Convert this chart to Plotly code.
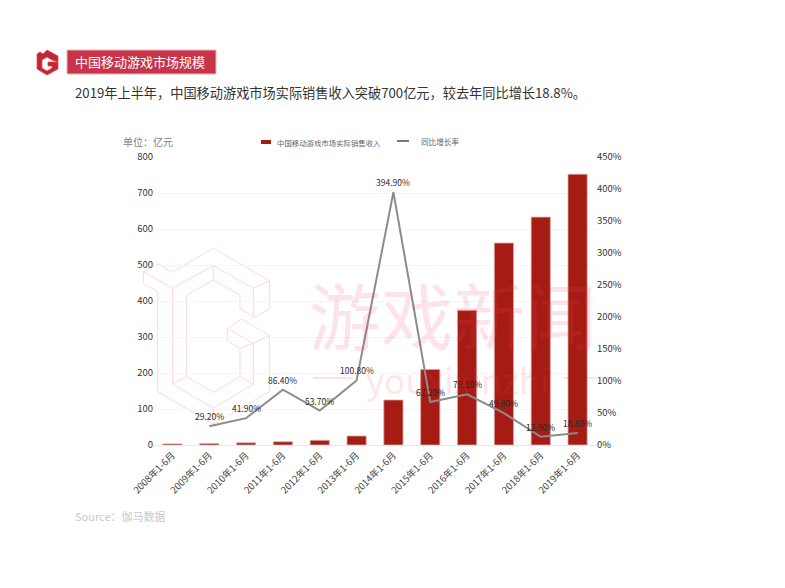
import plotly.graph_objects as go
from plotly.subplots import make_subplots

W, H = 785, 588
FONT = 'Noto Sans CJK SC, Noto Sans, sans-serif'

periods = ['2008年1-6月', '2009年1-6月', '2010年1-6月', '2011年1-6月', '2012年1-6月', '2013年1-6月',
           '2014年1-6月', '2015年1-6月', '2016年1-6月', '2017年1-6月', '2018年1-6月', '2019年1-6月']
revenue = [3, 4, 6, 9, 13, 25, 125, 210, 374, 561, 633, 752]
growth = [None, 29.2, 41.9, 86.4, 53.7, 100.8, 394.9, 67.2, 79.1, 49.8, 12.9, 18.8]
growth_labels = ['', '29.20%', '41.90%', '86.40%', '53.70%', '100.80%', '394.90%', '67.20%', '79.10%',
                 '49.80%', '12.90%', '18.80%']
left_ticks = [0, 100, 200, 300, 400, 500, 600, 700, 800]
right_ticks = [0, 50, 100, 150, 200, 250, 300, 350, 400, 450]

# plot area in page pixels
L, R, T, B = 154, 596, 157, 445


def px_x(x):
    return (x - L) / (R - L)


def px_y(y):
    return (B - y) / (B - T)


def poly(points, close=True, **kw):
    path = 'M' + ' L'.join(f'{px_x(x):.4f},{px_y(y):.4f}' for x, y in points) + (' Z' if close else '')
    return dict(type='path', path=path, xref='paper', yref='paper', layer='below', **kw)


def note(text, x, y, size, color, anchor='left'):
    return dict(text=text, x=px_x(x), y=px_y(y), xref='paper', yref='paper', xanchor=anchor, yanchor='middle',
                showarrow=False, borderpad=0, font=dict(size=size, color=color))


fig = make_subplots(specs=[[{'secondary_y': True}]])

fig.add_trace(go.Bar(x=periods, y=revenue, name='中国移动游戏市场实际销售收入',
                     marker=dict(color='#a61c14', line=dict(color='#dba5a3', width=0.8))),
              secondary_y=False)
fig.add_trace(go.Scatter(x=periods, y=growth, name='同比增长率', mode='lines',
                         line=dict(color='#8c8c8c', width=2)),
              secondary_y=True)

# header
shapes = [dict(type='rect', xref='paper', yref='paper', x0=px_x(67), x1=px_x(216), y0=px_y(74), y1=px_y(50),
               fillcolor='#c8354a', line=dict(color='#eab4bc', width=1), layer='below')]
# logo
shapes.append(poly([(47, 50), (58, 56), (58, 62), (52, 60), (47, 57), (42, 60), (42, 68), (47, 71), (52, 68),
                    (52, 66), (48, 66), (48, 62), (58, 62), (58, 69), (47, 75), (37, 69), (37, 54), (40, 52), (43, 54)],
                   fillcolor='#c0273d', line=dict(color='#e8452c', width=0.7)))

pink = '#fbd8dc'
pink_text = 'rgba(235,60,90,0.14)'


def g(*pts):
    return [(135 + x / 3, 240 + y / 3) for x, y in pts]


g_lines = [
    g((25, 95), (70, 72), (110, 97), (235, 25), (403, 122), (403, 207), (360, 232), (315, 207), (315, 165),
      (235, 120), (155, 165), (155, 410), (235, 457), (315, 410), (315, 325), (277, 303), (277, 265), (320, 237),
      (403, 287), (403, 455), (235, 553), (68, 455), (68, 155), (25, 130), (25, 95)),
    g((25, 95), (113, 145), (113, 432), (155, 410)),
    g((113, 145), (235, 77), (355, 145), (355, 232)),
    g((235, 77), (235, 120)),
    g((355, 145), (403, 122)),
    g((113, 432), (235, 505), (355, 432), (315, 410)),
    g((355, 432), (355, 310), (403, 287)),
    g((277, 265), (355, 310), (315, 325)),
    g((235, 505), (235, 553)),
]
for pts in g_lines:
    shapes.append(poly(pts, close=False, line=dict(color=pink, width=1), fillcolor='rgba(0,0,0,0)'))
shapes.append(poly([(313, 378), (353, 378)], close=False, line=dict(color=pink, width=1.5)))
shapes.append(poly([(563, 378), (597, 378)], close=False, line=dict(color=pink, width=1.5)))

# legend
shapes.append(dict(type='rect', xref='paper', yref='paper', x0=px_x(261), x1=px_x(271), y0=px_y(144), y1=px_y(140),
                   fillcolor='#a61c14', line=dict(width=0)))
shapes.append(poly([(397, 141), (409, 141)], close=False, line=dict(color='#4a4a4a', width=1.5)))

annotations = [
    note('中国移动游戏市场规模', 74, 62, 13, 'white'),
    note('2019年上半年，中国移动游戏市场实际销售收入突破700亿元，较去年同比增长18.8%。', 74, 92, 13.2, '#333333'),
    note('单位：亿元', 122, 141, 10, '#808080'),
    note('Source：伽马数据', 74, 516, 11, '#c9c9c9'),
    note('中国移动游戏市场实际销售收入', 276, 142, 7.4, '#666666'),
    note('同比增长率', 420, 141, 7.6, '#666666'),
    note('游戏新闻', 453, 312, 72, pink_text, anchor='center'),
    note('youxixinzhi', 458, 378, 35, pink_text, anchor='center'),
]
for period, value, label in zip(periods, growth, growth_labels):
    if value is not None:
        annotations.append(dict(text=label, x=period, y=value, xref='x', yref='y2', yshift=10, showarrow=False,
                                borderpad=0, font=dict(size=8.5, color='#2a2a2a')))

fig.update_layout(
    width=W, height=H,
    margin=dict(l=L, r=W - R, t=T, b=H - B, autoexpand=False),
    paper_bgcolor='white', plot_bgcolor='rgba(0,0,0,0)',
    font=dict(family=FONT, color='#444444'),
    bargap=0.48,
    showlegend=False,
    shapes=shapes,
    annotations=annotations,
)
fig.update_xaxes(domain=[0, 1], tickangle=-45, tickfont=dict(size=9.5, color='#444444'), showgrid=False, ticks='',
                 showline=True, linecolor='#e8e8e8', linewidth=1)
fig.update_yaxes(range=[0, 800], tickvals=left_ticks, tickfont=dict(size=9.5, color='#333333'),
                 gridcolor='#f5f5f5', zeroline=False, ticks='', secondary_y=False)
fig.update_yaxes(range=[0, 450], tickvals=right_ticks, ticktext=[f'{v}%' for v in right_ticks],
                 tickfont=dict(size=9.5, color='#333333'), showgrid=False, zeroline=False, ticks='',
                 secondary_y=True)

fig.write_html('out.html', config={'displayModeBar': False},
               post_script="document.body.style.margin='0';document.body.style.overflow='hidden';")
